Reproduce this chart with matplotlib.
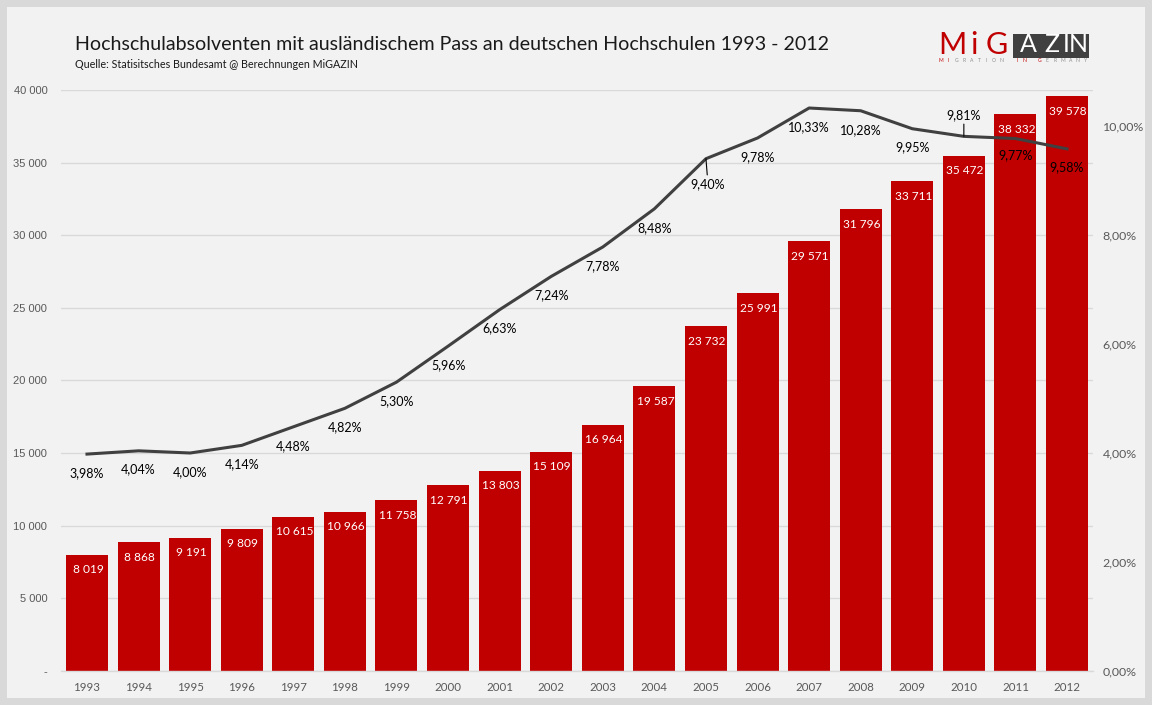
#!/usr/bin/env python3
"""Hochschulabsolventen mit auslaendischem Pass 1993 - 2012 (bars + share line)."""

import matplotlib
matplotlib.use("Agg")

import matplotlib.pyplot as plt
from matplotlib.patches import Rectangle
from matplotlib.ticker import FuncFormatter

# ── Data ─────────────────────────────────────────────────────────────────────
YEARS = list(range(1993, 2013))
GRADUATES = [8019, 8868, 9191, 9809, 10615, 10966, 11758, 12791, 13803, 15109,
             16964, 19587, 23732, 25991, 29571, 31796, 33711, 35472, 38332, 39578]
SHARE = [3.98, 4.04, 4.00, 4.14, 4.48, 4.82, 5.30, 5.96, 6.63, 7.24,
         7.78, 8.48, 9.40, 9.78, 10.33, 10.28, 9.95, 9.81, 9.77, 9.58]
LEFT_TICKS = [0, 5000, 10000, 15000, 20000, 25000, 30000, 35000, 40000]
RIGHT_TICKS = [0, 2, 4, 6, 8, 10]

TITLE = "Hochschulabsolventen mit ausländischem Pass an deutschen Hochschulen 1993 - 2012"
SOURCE = "Quelle: Statisitsches Bundesamt @ Berechnungen MiGAZIN"
TAGLINE = "MIGRATION IN GERMANY"

# ── Style ────────────────────────────────────────────────────────────────────
W, H = 1152, 705
RED = "#C00000"
DARK = "#404040"
GRID = "#D9D9D9"
PANEL = "#F2F2F2"
TICK_COL = "#595959"
LABEL_FONT = "Lato"
TITLE_FONT = "Lato"

# label offset below (+) / above (-) the line, in pixels
SHARE_OFFSETS = [19, 18, 19, 19, 19, 19, 19, 19, 18, 19,
                 19, 19, 25, 19, 19, 19, 18, -21, 17, 18]
LEADERS = [2005, 2010]


def fig_x(px):
    return px / W


def fig_y(py):
    return 1 - py / H


fig = plt.figure(figsize=(W / 100, H / 100), dpi=100, facecolor=GRID)
fig.add_artist(Rectangle((fig_x(7), fig_y(698)), 1138 / W, 691 / H,
                         transform=fig.transFigure, facecolor=PANEL, edgecolor="none",
                         zorder=-1))

ax = fig.add_axes([fig_x(61.2), fig_y(671), 1031.6 / W, 581 / H])
ax.patch.set_visible(False)

ax.bar(range(len(YEARS)), GRADUATES, width=0.814, color=RED, zorder=2)
ax.set_xlim(-0.5, 19.5)
ax.set_ylim(0, 40000)
ax.set_xticks(range(len(YEARS)))
ax.set_xticklabels(YEARS, fontfamily=LABEL_FONT, fontsize=8.3, color=TICK_COL)
ax.set_yticks(LEFT_TICKS)
ax.yaxis.set_major_formatter(
    FuncFormatter(lambda v, _: "-" if v == 0 else f"{int(v):,}".replace(",", " ")))
ax.tick_params(axis="x", length=0, pad=8)
ax.tick_params(axis="y", length=0, pad=10, labelsize=8.0, labelcolor=TICK_COL)
for lab in ax.get_yticklabels():
    lab.set_fontfamily("Liberation Sans")
ax.grid(axis="y", color=GRID, linewidth=1.0, zorder=1)
ax.set_axisbelow(True)
for side in ["top", "left", "right"]:
    ax.spines[side].set_visible(False)
ax.spines["bottom"].set_color(GRID)
ax.spines["bottom"].set_linewidth(1.0)

# ── Share on secondary axis ──────────────────────────────────────────────────
ax2 = ax.twinx()
ax2.patch.set_visible(False)
ax2.set_ylim(0, 581 / 54.5)
ax2.set_yticks(RIGHT_TICKS)
ax2.yaxis.set_major_formatter(FuncFormatter(lambda v, _: f"{v:.2f}%".replace(".", ",")))
ax2.tick_params(axis="y", length=0, pad=7, labelsize=8.9, labelcolor=TICK_COL)
for lab in ax2.get_yticklabels():
    lab.set_fontfamily(LABEL_FONT)
for spine in ax2.spines.values():
    spine.set_visible(False)
ax2.plot(range(len(YEARS)), SHARE, color=DARK, linewidth=2.2, zorder=3)

# ── Data labels ──────────────────────────────────────────────────────────────
for i, val in enumerate(GRADUATES):
    ax2.annotate(f"{val:,}".replace(",", " "),
                 xy=(i, val / 40000), xycoords=ax.get_xaxis_transform(),
                 xytext=(1, -15), textcoords="offset pixels",
                 ha="center", va="center", color="white",
                 fontfamily=LABEL_FONT, fontsize=8.6, zorder=5)

for i, val in enumerate(SHARE):
    off = SHARE_OFFSETS[i]
    arrow = None
    dx = 0
    if YEARS[i] in LEADERS:
        arrow = dict(arrowstyle="-", color="black", linewidth=0.8, shrinkA=0, shrinkB=0)
        dx = 2 if off > 0 else 0
    ax2.annotate(f"{val:.2f}%".replace(".", ","),
                 xy=(i, val), xytext=(dx, -off), textcoords="offset pixels",
                 ha="center", va="center", color="black",
                 fontfamily=LABEL_FONT, fontsize=9.0, arrowprops=arrow, zorder=5)

# ── Title block ──────────────────────────────────────────────────────────────
fig.text(fig_x(75), fig_y(44), TITLE, fontfamily=TITLE_FONT, fontsize=14.17,
         color="#1A1A1A", ha="left", va="center")
fig.text(fig_x(75), fig_y(64), SOURCE, fontfamily=TITLE_FONT, fontsize=7.76,
         color="#1A1A1A", ha="left", va="center")

# ── Logo ─────────────────────────────────────────────────────────────────────
fig.add_artist(Rectangle((fig_x(1013), fig_y(58)), 76 / W, 24 / H,
                         transform=fig.transFigure, facecolor=DARK, edgecolor="none"))
for px, ch in zip([952, 974, 997], "MiG"):
    fig.text(fig_x(px), fig_y(45), ch, fontfamily=TITLE_FONT,
             fontsize=22, color=RED, ha="center", va="center")
for px, ch in zip([1028, 1052, 1066, 1078], "AZIN"):
    fig.text(fig_x(px), fig_y(45), ch, fontfamily=TITLE_FONT,
             fontsize=18, color="white", ha="center", va="center")
for idx, ch in enumerate(TAGLINE):
    # "MI" and "IN G" are the red letters in the logo's small line
    tag_col = RED if idx < 2 or 10 <= idx <= 13 else "#8C8C8C"
    fig.text(fig_x(941 + idx * 7.6), fig_y(60.5), ch, fontfamily=TITLE_FONT,
             fontsize=3.6, color=tag_col, ha="center", va="center")

fig.savefig("out.png", dpi=100, facecolor=fig.get_facecolor())
plt.close(fig)
